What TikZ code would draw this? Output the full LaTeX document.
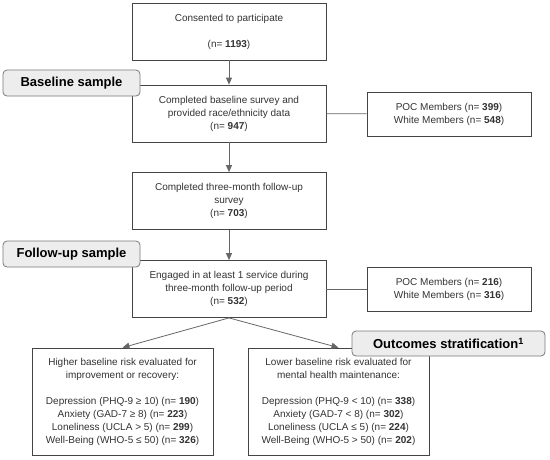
\documentclass[tikz,border=0pt]{standalone}
\usepackage{fontspec}
\setmainfont{Liberation Sans}
\usetikzlibrary{arrows.meta}
\definecolor{txt}{HTML}{333333}
\definecolor{edge}{HTML}{444444}
\definecolor{conn}{HTML}{666666}
\definecolor{tagfill}{HTML}{EDEDED}
\definecolor{tagedge}{HTML}{7A7A7A}
\begin{document}
\begin{tikzpicture}[x=1pt,y=-1pt,
  box/.style={draw=edge, line width=0.8pt, fill=white, align=center, inner sep=0pt,
    text=txt, font=\fontsize{10}{13}\selectfont},
  mainbox/.style={box, minimum width=194pt, minimum height=57pt},
  sidebox/.style={box, minimum width=164pt, minimum height=44pt},
  outbox/.style={box, minimum width=181pt, minimum height=107pt},
  tag/.style={draw=tagedge, line width=0.8pt, fill=tagfill, rounded corners=4pt,
    inner sep=0pt, text=black, font=\fontsize{13}{15}\selectfont\bfseries},
  flow/.style={draw=conn, line width=0.8pt, -{Triangle[length=7pt,width=6pt]}},
  link/.style={draw=conn, line width=0.8pt}
]
\useasboundingbox (0,0) rectangle (550,459);

\node[mainbox] (b1) at (229,31.5) {Consented to participate\\[13pt](n= \textbf{1193})};
\node[mainbox] (b2) at (229,113.5) {Completed baseline survey and\\provided race/ethnicity data\\(n= \textbf{947})};
\node[mainbox] (b3) at (229,201) {Completed three-month follow-up\\survey\\(n= \textbf{703})};
\node[mainbox] (b4) at (229,289) {Engaged in at least 1 service during\\three-month follow-up period\\(n= \textbf{532})};

\node[sidebox] (p1) at (449,114) {POC Members (n= \textbf{399})\\White Members (n= \textbf{548})};
\node[sidebox] (p2) at (449,289) {POC Members (n= \textbf{216})\\White Members (n= \textbf{316})};

\node[outbox] (lo) at (122.5,401.5) {Higher baseline risk evaluated for\\improvement or recovery:\\[13pt]Depression (PHQ-9 ≥ 10) (n= \textbf{190})\\Anxiety (GAD-7 ≥ 8) (n= \textbf{223})\\Loneliness (UCLA > 5) (n= \textbf{299})\\Well-Being (WHO-5 ≤ 50) (n= \textbf{326})};
\node[outbox] (ro) at (338.5,401.5) {Lower baseline risk evaluated for\\mental health maintenance:\\[13pt]Depression (PHQ-9 < 10) (n= \textbf{338})\\Anxiety (GAD-7 < 8) (n= \textbf{302})\\Loneliness (UCLA ≤ 5) (n= \textbf{224})\\Well-Being (WHO-5 > 50) (n= \textbf{202})};

\draw[flow] (b1) -- (b2);
\draw[flow] (b2) -- (b3);
\draw[flow] (b3) -- (b4);
\draw[link] (b2) -- (p1);
\draw[link] (b4) -- (p2);
\draw[flow] (b4.south) -- (lo.north);
\draw[flow] (b4.south) -- (ro.north);

\node[tag, minimum width=137pt, minimum height=26pt] (t1) at (71.5,83) {Baseline sample};
\node[tag, minimum width=137pt, minimum height=26pt] (t2) at (71.5,254) {Follow-up sample};
\node[tag, minimum width=193pt, minimum height=25pt] (t3) at (448.5,343.5) {Outcomes stratification\textsuperscript{1}};
\end{tikzpicture}
\end{document}
